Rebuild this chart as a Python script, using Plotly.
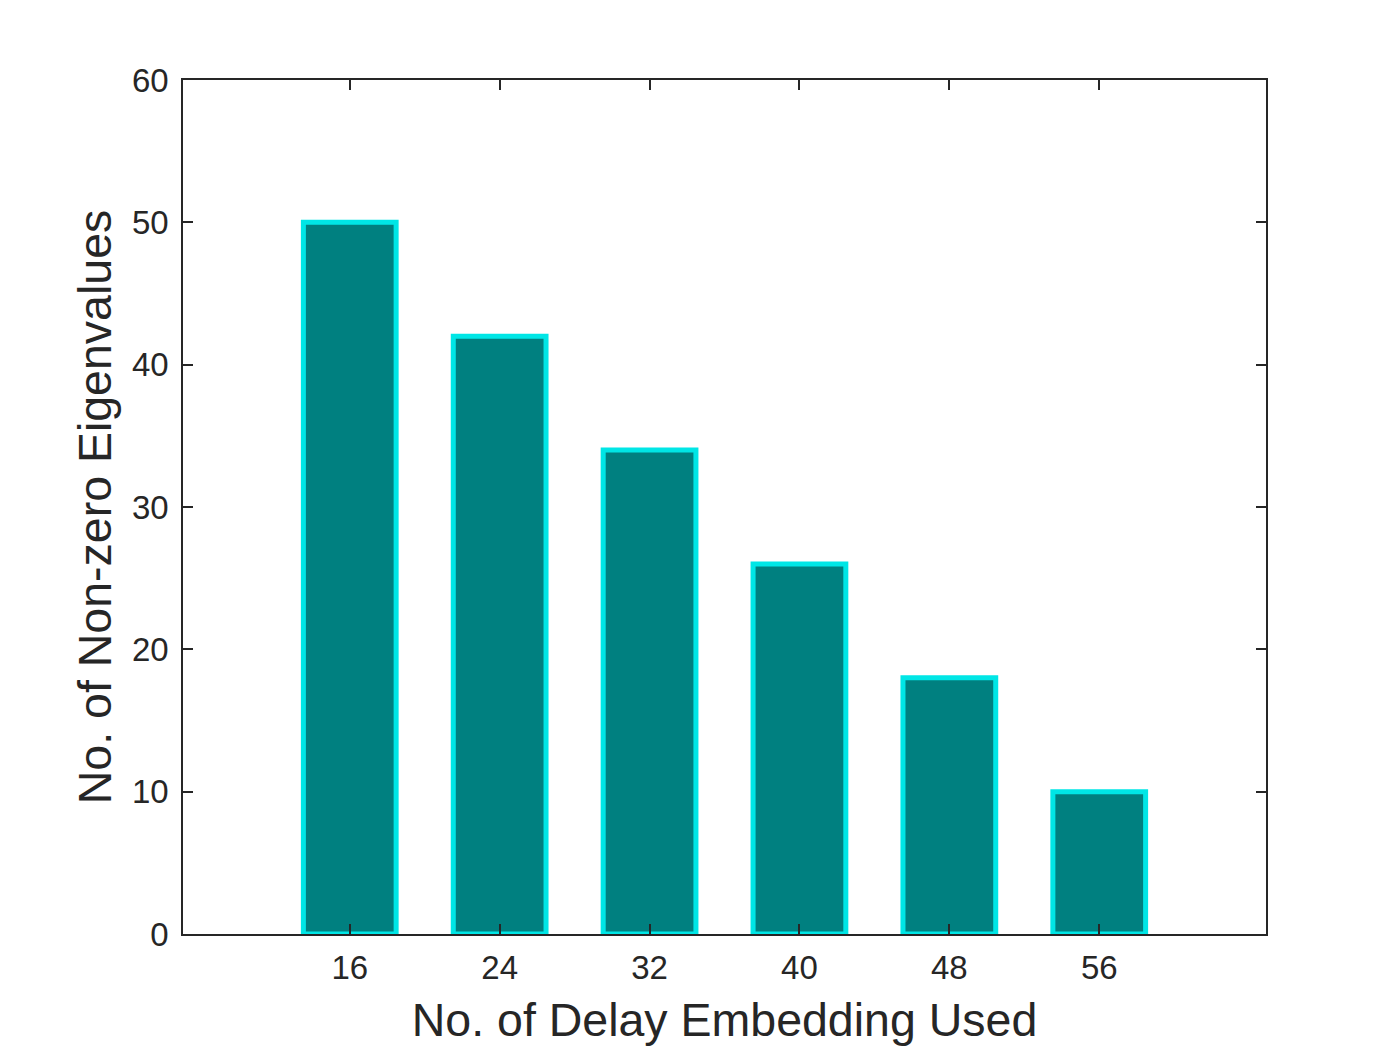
import plotly.graph_objects as go

delays = [16, 24, 32, 40, 48, 56]
eig_counts = [50, 42, 34, 26, 18, 10]
y_ticks = [0, 10, 20, 30, 40, 50, 60]

txt = "#262626"
font_fam = "Liberation Sans, Arial, Helvetica, sans-serif"

fig = go.Figure(go.Bar(
    x=delays, y=eig_counts, width=4.95,
    marker=dict(color="#008080", line=dict(color="#00E6E6", width=5)),
))

axis_common = dict(
    showline=True, linecolor=txt, linewidth=1.5, mirror="ticks",
    ticks="inside", ticklen=10, tickwidth=1.5, tickcolor=txt,
    showgrid=False, zeroline=False,
    tickfont=dict(family=font_fam, size=33, color=txt),
)

fig.update_layout(
    width=1400, height=1050,
    margin=dict(l=175, r=142, t=72, b=124),
    paper_bgcolor="white", plot_bgcolor="white",
    showlegend=False,
    xaxis=dict(
        range=[7.1, 64.9], tickvals=delays, ticktext=[str(d) for d in delays],
        ticklabelstandoff=4,
        title=dict(text="No. of Delay Embedding Used",
                   font=dict(family=font_fam, size=46.5, color=txt), standoff=18),
        **axis_common,
    ),
    yaxis=dict(
        range=[0, 60], tickvals=y_ticks,
        ticklabelstandoff=6,
        title=dict(text="No. of Non-zero Eigenvalues",
                   font=dict(family=font_fam, size=46.5, color=txt), standoff=6),
        **axis_common,
    ),
)

fig.write_html("out.html")
